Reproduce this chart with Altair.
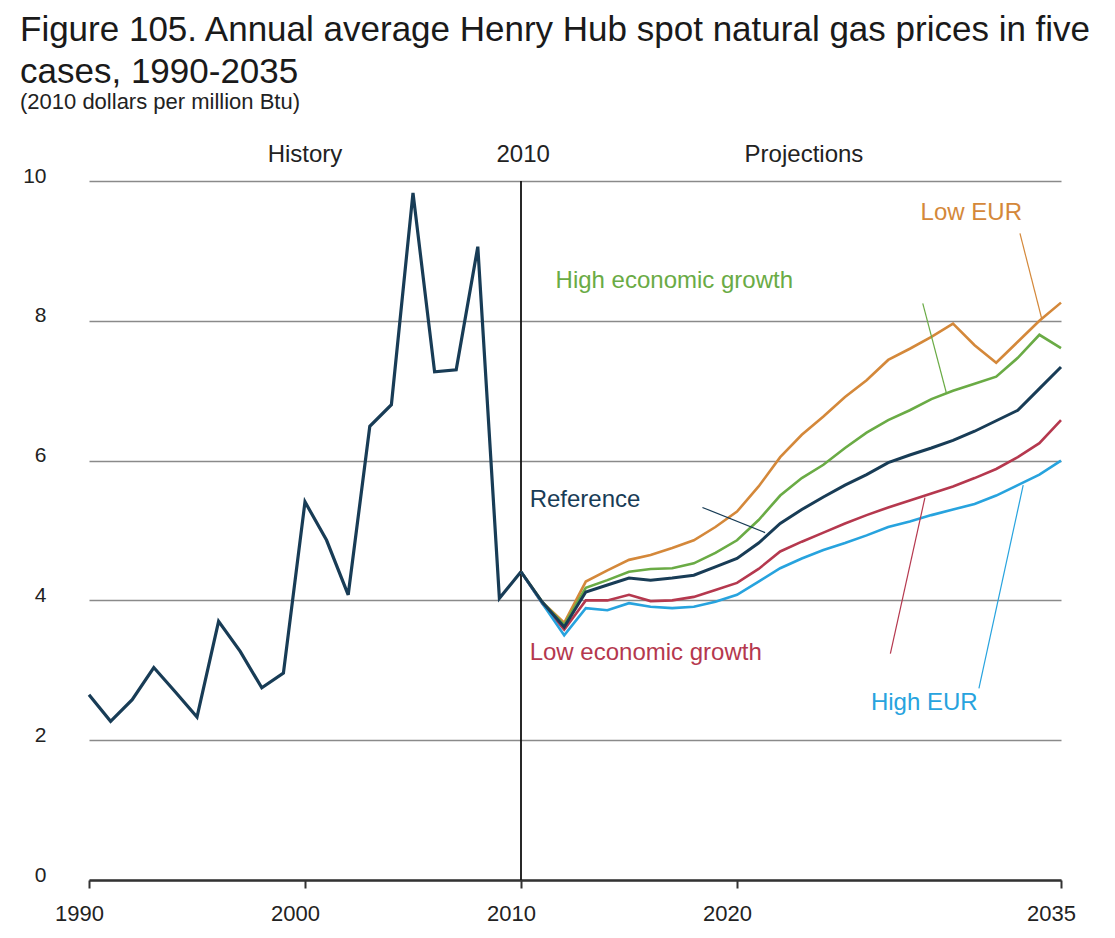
import altair as alt
import pandas as pd

FONT = "Liberation Sans, Arial, Helvetica, sans-serif"

# ---- data ----
hist_years = list(range(1990, 2011))
hist_price = [2.65, 2.27, 2.58, 3.04, 2.69, 2.33, 3.70, 3.27, 2.75, 2.96,
              5.41, 4.86, 4.08, 6.49, 6.80, 9.83, 7.27, 7.30, 9.06, 4.03, 4.41]

proj_years = list(range(2010, 2036))
reference = [4.41, 3.97, 3.62, 4.12, 4.22, 4.32, 4.29, 4.32, 4.36, 4.48,
             4.60, 4.82, 5.10, 5.30, 5.48, 5.65, 5.80, 5.97, 6.08, 6.18,
             6.29, 6.42, 6.57, 6.72, 7.03, 7.34]
low_eur = [4.41, 3.97, 3.68, 4.27, 4.43, 4.58, 4.65, 4.75, 4.86, 5.05,
           5.27, 5.63, 6.05, 6.37, 6.63, 6.91, 7.15, 7.44, 7.60, 7.77,
           7.96, 7.65, 7.40, 7.70, 8.00, 8.26]
high_growth = [4.41, 3.97, 3.65, 4.18, 4.29, 4.41, 4.45, 4.46, 4.53, 4.68,
               4.86, 5.15, 5.50, 5.75, 5.94, 6.18, 6.40, 6.58, 6.72, 6.88,
               7.00, 7.10, 7.20, 7.47, 7.80, 7.61]
low_growth = [4.41, 3.95, 3.58, 4.00, 4.00, 4.08, 3.99, 4.00, 4.05, 4.15,
              4.25, 4.45, 4.70, 4.84, 4.97, 5.10, 5.22, 5.33, 5.43, 5.53,
              5.63, 5.75, 5.88, 6.05, 6.25, 6.58]
high_eur = [4.41, 3.95, 3.50, 3.89, 3.86, 3.96, 3.91, 3.89, 3.91, 3.98,
            4.08, 4.27, 4.46, 4.60, 4.72, 4.82, 4.93, 5.05, 5.13, 5.22,
            5.30, 5.38, 5.50, 5.65, 5.80, 6.00]

series_names = ["Low EUR", "High economic growth", "Low economic growth", "High EUR", "Reference"]
series_values = [low_eur, high_growth, low_growth, high_eur, reference]
series_colors = ["#d4883a", "#6aab45", "#b5384e", "#27a3de", "#183c56"]
label_colors = ["#c98a4e", "#6ca94c", "#b0404f", "#3a9fd6", "#2c4a62"]

x_ticks = [1990, 2000, 2010, 2020, 2035]
y_ticks = [0, 2, 4, 6, 8, 10]

# in-plot case labels (anchored in data units)
lab_text = ["Low EUR", "High economic growth", "Low economic growth", "High EUR", "Reference"]
lab_year = [2028.5, 2011.6, 2010.4, 2026.2, 2010.4]
lab_value = [9.44, 8.47, 3.15, 2.43, 5.33]

# leader lines (from label to curve), data units
lead_x1 = [2033.1, 2028.6, 2027.1, 2031.2, 2018.4]
lead_y1 = [9.25, 8.25, 3.24, 2.74, 5.33]
lead_x2 = [2034.1, 2029.7, 2028.7, 2033.25, 2021.3]
lead_y2 = [8.04, 6.96, 5.47, 5.65, 4.97]

head_text = ["History", "2010", "Projections"]
head_year = [2000.0, 2010.1, 2023.1]

# ---- tables ----
hist_df = pd.DataFrame({"year": hist_years, "price": hist_price})
proj_rows = []
for name, vals in zip(series_names, series_values):
    for y, v in zip(proj_years, vals):
        proj_rows.append({"year": y, "price": v, "case": name})
proj_df = pd.DataFrame(proj_rows)
lab_df = pd.DataFrame({"text": lab_text, "year": lab_year, "price": lab_value})
lead_df = pd.DataFrame({"case": lab_text, "x1": lead_x1, "y1": lead_y1, "x2": lead_x2, "y2": lead_y2})
head_df = pd.DataFrame({"text": head_text, "year": head_year})

xscale = alt.Scale(domain=[1990, 2035], nice=False, zero=False)
yscale = alt.Scale(domain=[0, 10], nice=False)
cscale = alt.Scale(domain=series_names, range=series_colors)
lscale = alt.Scale(domain=series_names, range=label_colors)

x_axis = alt.Axis(values=x_ticks, format="d", title=None, grid=False,
                  domainColor="#333333", domainWidth=2.5,
                  tickColor="#333333", tickWidth=2, tickSize=8,
                  labelFont=FONT, labelFontSize=22, labelColor="#222222",
                  labelPadding=15, labelOffset=-10, labelFlush=False)
y_axis = alt.Axis(values=y_ticks, format="d", title=None, grid=True, gridColor="#8a8a8a",
                  gridWidth=1.5, domain=False, ticks=False,
                  labelFont=FONT, labelFontSize=21, labelColor="#222222",
                  labelAlign="right", labelPadding=43, labelOffset=-5)

base_hist = alt.Chart(hist_df).mark_line(color="#183c56", strokeWidth=3.2).encode(
    x=alt.X("year:Q", scale=xscale, axis=x_axis),
    y=alt.Y("price:Q", scale=yscale, axis=y_axis))

proj_layers = []
for name in series_names:
    proj_layers.append(
        alt.Chart(proj_df).transform_filter(alt.datum.case == name)
        .mark_line(strokeWidth=2.6 if name != "Reference" else 3.0)
        .encode(x="year:Q", y="price:Q",
                color=alt.Color("case:N", scale=cscale, legend=None))
    )

vline = alt.Chart(pd.DataFrame({"year": [2010]})).mark_rule(color="#111111", strokeWidth=1.8).encode(
    x="year:Q", y=alt.datum(10), y2=alt.datum(0))

leaders = alt.Chart(lead_df).mark_rule(strokeWidth=1.2).encode(
    x="x1:Q", y="y1:Q", x2="x2:Q", y2="y2:Q",
    color=alt.Color("case:N", scale=lscale, legend=None))

labels = alt.Chart(lab_df).mark_text(font=FONT, fontSize=24, align="left", baseline="alphabetic").encode(
    x="year:Q", y="price:Q", text="text:N",
    color=alt.Color("text:N", scale=lscale, legend=None))

heads = alt.Chart(head_df).mark_text(font=FONT, fontSize=24, align="center", baseline="alphabetic",
                                     color="#222222").encode(
    x="year:Q", y=alt.value(-19), text="text:N")

chart = alt.layer(base_hist, vline, *proj_layers, leaders, labels, heads).properties(
    width=972, height=699,
    background="white",
    autosize=alt.AutoSizeParams(type="none"),
    padding={"left": 81, "top": 173, "right": 46, "bottom": 50},
    title=alt.TitleParams(
        text=["Figure 105. Annual average Henry Hub spot natural gas prices in five",
              "cases, 1990-2035"],
        subtitle="(2010 dollars per million Btu)",
        anchor="start", frame="group", dx=-69, offset=30,
        font=FONT, fontSize=35, fontWeight="normal", color="#1a1a1a", lineHeight=42,
        subtitleFont=FONT, subtitleFontSize=22, subtitleColor="#222222", subtitlePadding=2,
    ),
).configure_view(stroke="transparent", strokeWidth=0)

chart.save("out.html", embed_options={"renderer": "svg", "actions": False})
